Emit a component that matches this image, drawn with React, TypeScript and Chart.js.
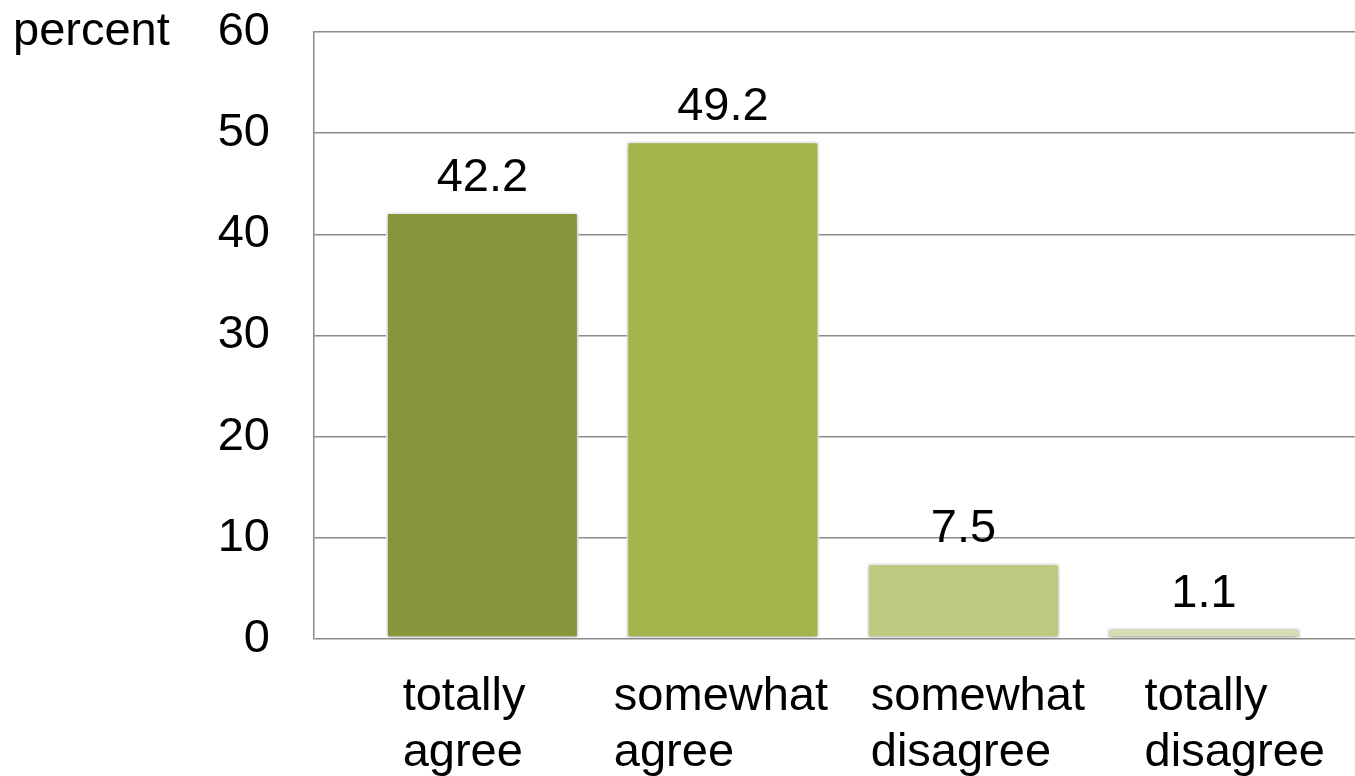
import React, { useEffect, useRef } from "react";
import { Chart, registerables } from "chart.js";

Chart.register(...registerables);

// Survey answers (two-line category labels) and their shares in percent
const categories: string[][] = [
  ["totally", "agree"],
  ["somewhat", "agree"],
  ["somewhat", "disagree"],
  ["totally", "disagree"],
];
const shares: number[] = [42.2, 49.2, 7.5, 1.1];
const barColors: string[] = ["#88963B", "#A3B54A", "#BDCA80", "#D6DFB3"];
const yMin = 0;
const yMax = 60;
const yStep = 10;
const yAxisTitle = "percent";

const FONT = '"Liberation Sans", Arial, sans-serif';
const FONT_SIZE = 47;
const GRID = "#8c8c8c";

const labelsPlugin = {
  id: "barDecor",
  beforeDatasetsDraw(chart: any) {
    const ctx = chart.ctx;
    ctx.save();
    ctx.shadowColor = "rgba(0,0,0,0.4)";
    ctx.shadowBlur = 5;
    ctx.shadowOffsetX = 0;
    ctx.shadowOffsetY = 1;
  },
  afterDatasetsDraw(chart: any) {
    const ctx = chart.ctx;
    ctx.restore();
    ctx.save();
    ctx.font = `${FONT_SIZE}px ${FONT}`;
    ctx.fillStyle = "#000";
    // value labels above each bar
    const meta = chart.getDatasetMeta(0);
    meta.data.forEach((bar: any, i: number) => {
      ctx.textAlign = "center";
      ctx.textBaseline = "alphabetic";
      ctx.fillText(shares[i].toFixed(1), bar.x, bar.y - 21);
    });
    // category labels below the axis, placed by their own label scale;
    // lines are left-aligned within a block centred on the label slot
    const labelScale = chart.scales.xLabel;
    const bottom = chart.chartArea.bottom;
    categories.forEach((lines, i) => {
      const cx = labelScale.getPixelForValue(i);
      const w = Math.max(...lines.map((l) => ctx.measureText(l).width));
      const left = cx - w / 2;
      ctx.textAlign = "left";
      lines.forEach((line, k) => {
        ctx.fillText(line, left, bottom + 71 + k * 56);
      });
    });
    // axis unit label next to the top tick
    const yScale = chart.scales.y;
    ctx.textAlign = "left";
    ctx.textBaseline = "middle";
    ctx.fillText(yAxisTitle, 13, yScale.getPixelForValue(yMax));
    ctx.restore();
  },
};

export default function App() {
  const canvasRef = useRef<HTMLCanvasElement | null>(null);

  useEffect(() => {
    if (!canvasRef.current) return;
    const chart = new Chart(canvasRef.current, {
      type: "bar",
      data: {
        datasets: [
          {
            data: shares.map((v, i) => ({ x: i, y: v })),
            backgroundColor: barColors,
            borderColor: "#ffffff",
            borderWidth: 2,
            borderSkipped: false,
            categoryPercentage: 1,
            barPercentage: 0.802,
          },
        ],
      },
      options: {
        animation: false,
        responsive: true,
        maintainAspectRatio: false,
        layout: { padding: { top: 32, bottom: 137, left: 0, right: 0 } },
        plugins: {
          legend: { display: false },
          tooltip: { enabled: false },
        },
        scales: {
          x: {
            type: "linear",
            display: false,
            offset: false,
            min: -0.7,
            max: 3.628,
            ticks: { stepSize: 1, includeBounds: false },
          },
          xLabel: {
            type: "linear",
            axis: "x",
            position: "bottom",
            display: false,
            offset: false,
            min: -0.584,
            max: 3.468,
            ticks: { stepSize: 1, includeBounds: false },
          },
          y: {
            min: yMin,
            max: yMax,
            afterFit: (scale: any) => {
              scale.width = 314;
              scale.paddingTop = 0;
              scale.paddingBottom = 0;
            },
            ticks: {
              stepSize: yStep,
              padding: 44,
              color: "#000",
              font: { family: FONT, size: FONT_SIZE },
            },
            grid: { color: GRID, lineWidth: 1.5, drawTicks: false },
            border: { display: true, color: GRID, width: 1.5 },
          },
        },
      },
      plugins: [labelsPlugin],
    });
    return () => chart.destroy();
  }, []);

  return (
    <div style={{ position: "absolute", left: 0, top: 0, width: 1355, height: 776 }}>
      <canvas ref={canvasRef} />
    </div>
  );
}
